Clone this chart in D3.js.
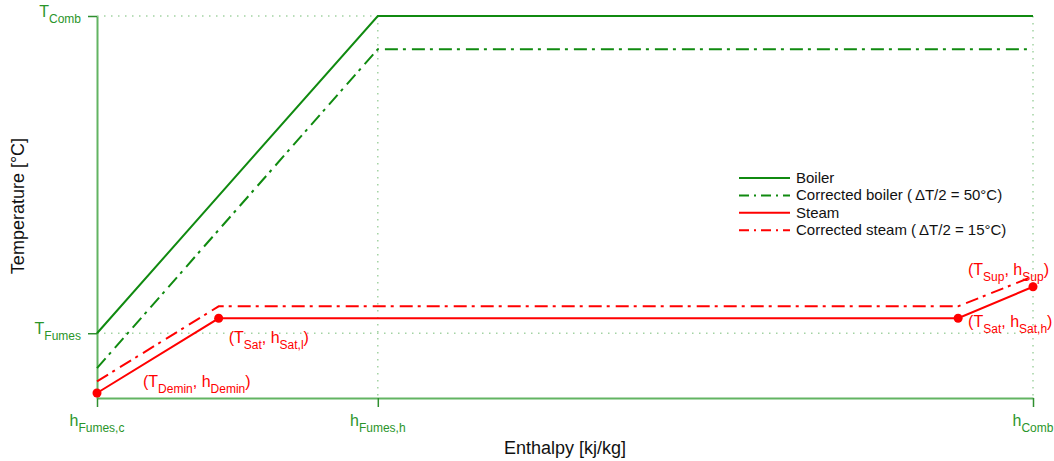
<!DOCTYPE html>
<html>
  <head>
    <title>Boiler / steam temperature-enthalpy diagram</title>
    <script src="https://d3js.org/d3.v7.min.js"></script>
    <style>
      body { margin: 0; background: #fff; }
      text { font-family: "Liberation Sans", Arial, Helvetica, sans-serif; }
    </style>
  </head>
  <body>
    <script>
      var width = 1054;
      var height = 461;
      var margin = {top: 16, left: 97, right: 21, bottom: 63};

      // enthalpy ticks (arbitrary units) and their labels
      var hTicks = [0, 300, 1000];
      var hTickLabels = ["Fumes,c", "Fumes,h", "Comb"];
      // temperature ticks and their labels
      var tTicks = [195, 1150];
      var tTickLabels = ["Fumes", "Comb"];

      // series
      var boilerH = [0, 300, 1000];
      var boilerT = [195, 1150, 1150];
      var corrBoilerH = [0, 300, 1000];
      var corrBoilerT = [90, 1050, 1050];
      var steamH = [0, 130, 920, 1000];
      var steamT = [15, 240, 240, 335];
      var corrSteamH = [0, 130, 920, 1000];
      var corrSteamT = [50, 276, 276, 366];

      var legendLabels = ["Boiler", "Corrected boiler (\u2009\u0394T/2 = 50\u00B0C)", "Steam", "Corrected steam (\u2009\u0394T/2 = 15\u00B0C)"];

      // point annotations for the steam line, [text, subscript?] pieces
      var steamNotes = [
        [["(T", 0], ["Demin", 1], [", h", 0], ["Demin", 1], [")", 0]],
        [["(T", 0], ["Sat", 1], [", h", 0], ["Sat,l", 1], [")", 0]],
        [["(T", 0], ["Sat", 1], [", h", 0], ["Sat,h", 1], [")", 0]],
        [["(T", 0], ["Sup", 1], [", h", 0], ["Sup", 1], [")", 0]]
      ];
      var noteOffsets = [[46, -6], [10, 25], [10, 9], [-65, -12]];

      var green = "#108a10";
      var greenText = "#2a952a";
      var red = "#ff0000";
      var dotDash = "13,5,3,6";

      var svg = d3.select("body")
        .append("svg")
        .attr("width", width)
        .attr("height", height);

      var xScale = d3.scaleLinear()
        .domain([0, 1000])
        .range([margin.left, width - margin.right]);

      var yScale = d3.scaleLinear()
        .domain([0, 1150])
        .range([height - margin.bottom, margin.top]);

      // dotted guides
      svg.selectAll(".hgrid")
        .data(tTicks)
        .enter()
        .append("line")
          .attr("x1", xScale(0))
          .attr("x2", xScale(1000))
          .attr("y1", function(d) { return yScale(d); })
          .attr("y2", function(d) { return yScale(d); })
          .attr("stroke", "#a3d3a3")
          .attr("stroke-width", 1.5)
          .attr("stroke-dasharray", "1.5,5.5");

      svg.selectAll(".vgrid")
        .data(hTicks.slice(1))
        .enter()
        .append("line")
          .attr("x1", function(d) { return xScale(d); })
          .attr("x2", function(d) { return xScale(d); })
          .attr("y1", yScale(1150))
          .attr("y2", yScale(0))
          .attr("stroke", "#a3d3a3")
          .attr("stroke-width", 1.5)
          .attr("stroke-dasharray", "1.5,5.5");

      // axes
      var xAxis = svg.append("g")
        .attr("transform", `translate(0,${height - margin.bottom})`)
        .call(d3.axisBottom(xScale).tickValues(hTicks).tickSize(9).tickSizeOuter(0).tickFormat(""));

      var yAxis = svg.append("g")
        .attr("transform", `translate(${margin.left},0)`)
        .call(d3.axisLeft(yScale).tickValues(tTicks).tickSize(9).tickSizeOuter(0).tickFormat(""));

      svg.selectAll(".domain")
        .attr("stroke", "#62b462")
        .attr("stroke-width", 2);
      svg.selectAll(".tick line")
        .attr("stroke", "#2f8f2f")
        .attr("stroke-width", 1.5);

      function addParts(sel, parts, big, small, shift) {
        parts.forEach(function(p, i) {
          var prevSub = i > 0 && parts[i - 1][1];
          sel.append("tspan")
            .attr("font-size", p[1] ? small : big)
            .attr("dy", p[1] ? shift : (prevSub ? -shift : 0))
            .text(p[0]);
        });
      }

      // tick labels
      hTicks.forEach(function(d, i) {
        var t = svg.append("text")
          .attr("x", xScale(d))
          .attr("y", height - margin.bottom + 28)
          .attr("text-anchor", "middle")
          .attr("fill", greenText);
        addParts(t, [["h", 0], [hTickLabels[i], 1]], 16, 12, 6);
      });

      tTicks.forEach(function(d, i) {
        var t = svg.append("text")
          .attr("x", margin.left - 16)
          .attr("y", yScale(d) + 1)
          .attr("text-anchor", "end")
          .attr("fill", greenText);
        addParts(t, [["T", 0], [tTickLabels[i], 1]], 16, 12, 6);
      });

      // lines
      var line = d3.line()
        .x(function(d) { return xScale(d[0]); })
        .y(function(d) { return yScale(d[1]); });

      var series = [
        {h: boilerH, t: boilerT, color: green, dash: null},
        {h: corrBoilerH, t: corrBoilerT, color: green, dash: dotDash},
        {h: steamH, t: steamT, color: red, dash: null},
        {h: corrSteamH, t: corrSteamT, color: red, dash: dotDash}
      ];

      svg.selectAll(".series")
        .data(series)
        .enter()
        .append("path")
          .attr("d", function(s) { return line(d3.zip(s.h, s.t)); })
          .attr("fill", "none")
          .attr("stroke", function(s) { return s.color; })
          .attr("stroke-width", 2)
          .attr("stroke-dasharray", function(s) { return s.dash; });

      // steam state points
      svg.selectAll(".pt")
        .data(d3.zip(steamH, steamT))
        .enter()
        .append("circle")
          .attr("cx", function(d) { return xScale(d[0]); })
          .attr("cy", function(d) { return yScale(d[1]); })
          .attr("r", 4.5)
          .attr("fill", red);

      steamNotes.forEach(function(parts, i) {
        var t = svg.append("text")
          .attr("x", xScale(steamH[i]) + noteOffsets[i][0])
          .attr("y", yScale(steamT[i]) + noteOffsets[i][1])
          .attr("fill", red);
        addParts(t, parts, 16, 12, 6);
      });

      // legend
      var legend = svg.append("g")
        .attr("transform", "translate(739,178)");

      legendLabels.forEach(function(lab, i) {
        var s = series[i];
        legend.append("line")
          .attr("x1", 0)
          .attr("x2", 51)
          .attr("y1", i * 17.4)
          .attr("y2", i * 17.4)
          .attr("stroke", s.color)
          .attr("stroke-width", 2)
          .attr("stroke-dasharray", s.dash ? "10,5,2,5" : null);
        legend.append("text")
          .attr("x", 57)
          .attr("y", i * 17.4 + 5)
          .attr("font-size", 15)
          .attr("fill", "#111")
          .text(lab);
      });

      // axis titles
      svg.append("text")
        .attr("x", 565)
        .attr("y", 454)
        .attr("text-anchor", "middle")
        .attr("font-size", 18)
        .attr("fill", "#111")
        .text("Enthalpy [kj/kg]");

      svg.append("text")
        .attr("transform", "rotate(-90)")
        .attr("x", -206)
        .attr("y", 24)
        .attr("text-anchor", "middle")
        .attr("font-size", 18)
        .attr("fill", "#111")
        .text("Temperature [\u00B0C]");
    </script>
  </body>
</html>
